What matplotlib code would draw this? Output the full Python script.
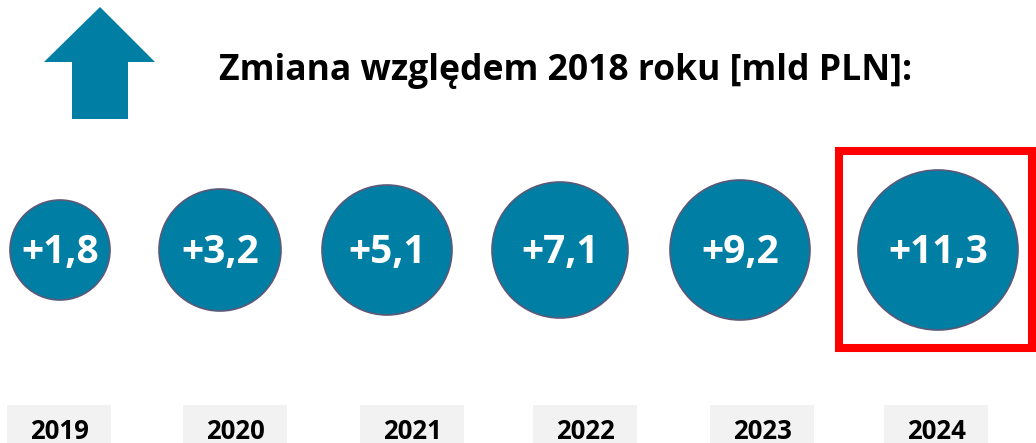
import matplotlib
matplotlib.use('Agg')
import matplotlib.pyplot as plt
from matplotlib.patches import Circle, Rectangle, Polygon

years = ['2019', '2020', '2021', '2022', '2023', '2024']
changes = [1.8, 3.2, 5.1, 7.1, 9.2, 11.3]
title = 'Zmiana względem 2018 roku [mld PLN]:'

# layout in pixels (figure is 1036 x 443)
circle_x = [60, 220, 387, 560, 740, 938]
circle_r = [50, 61, 65, 68, 70, 80]
circle_y = 250
year_x = [59, 235, 412, 585, 762, 936]

BLUE = '#007ea4'
plt.rcParams['font.family'] = ['Open Sans', 'DejaVu Sans']

fig = plt.figure(figsize=(10.36, 4.43), dpi=100)
ax = fig.add_axes([0, 0, 1, 1])
ax.set_xlim(0, 1036)
ax.set_ylim(443, 0)
ax.axis('off')

# up arrow
arrow = [(100, 7), (155, 62), (128, 62), (128, 119), (72, 119), (72, 62), (44, 62)]
ax.add_patch(Polygon(arrow, closed=True, color=BLUE, lw=0))

ax.text(219, 80, title, fontsize=25.6, fontweight='bold', ha='left', va='baseline')

for x, r, v in zip(circle_x, circle_r, changes):
    ax.add_patch(Circle((x, circle_y), r, facecolor=BLUE, edgecolor='#5b5878', lw=1.2))
    label = '+' + f'{v:.1f}'.replace('.', ',')
    ax.text(x, circle_y + 13.5, label, fontsize=28, fontweight='bold', color='white',
            ha='center', va='baseline')

for x, y in zip(year_x, years):
    ax.add_patch(Rectangle((x - 52, 405), 104, 40, facecolor='#f2f2f2', lw=0))
    ax.text(x, 439, y, fontsize=18.5, fontweight='bold', ha='center', va='baseline')

# highlight the latest year
i = changes.index(max(changes))
ax.add_patch(Rectangle((circle_x[i] - 99, 151), 193, 197, fill=False,
                       edgecolor='#ff0000', lw=5.8))

fig.savefig('out.png', dpi=100)
